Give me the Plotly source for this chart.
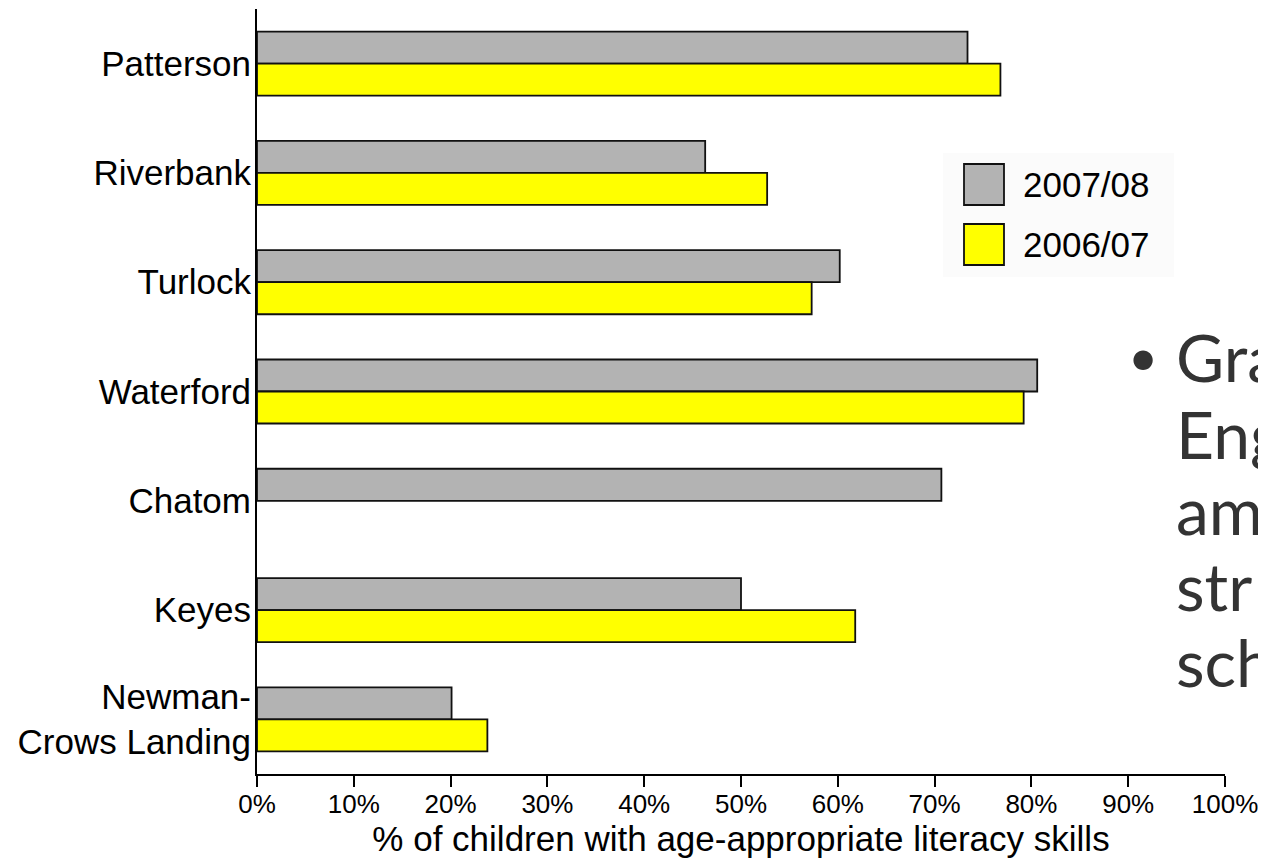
import plotly.graph_objects as go

communities = ["Patterson", "Riverbank", "Turlock", "Waterford", "Chatom", "Keyes", "Newman-<br>Crows Landing"]
vals_2007_08 = [73.4, 46.3, 60.2, 80.6, 70.7, 50.0, 20.1]
vals_2006_07 = [76.8, 52.7, 57.3, 79.2, None, 61.8, 23.8]
series_names = ["2007/08", "2006/07"]
series_colors = ["#b3b3b3", "#ffff00"]
x_ticks = [0, 10, 20, 30, 40, 50, 60, 70, 80, 90, 100]
x_title = "% of children with age-appropriate literacy skills"
side_lines = ["Gra", "Eng", "am", "str", "sch"]

FONT = "Liberation Sans, Arial, sans-serif"

fig = go.Figure()
for name, vals, col in zip(series_names, [vals_2007_08, vals_2006_07], series_colors):
    fig.add_trace(go.Bar(
        y=communities, x=vals, orientation="h", name=name,
        marker=dict(color=col, line=dict(color="#111111", width=1.8)),
        showlegend=False,
    ))

# page body has an 8px margin: figure is offset by (8, 8) in the window
OFF = 8
W, H = 1266 - OFF, 858 - OFF
ml, mr, mt, mb = 257 - OFF, 41, 9 - OFF, 84
pw, ph = W - ml - mr, H - mt - mb

def px(x):  # window pixel -> paper x
    return (x - OFF - ml) / pw

def py(y):  # window pixel -> paper y
    return 1 - (y - OFF - mt) / ph

fig.update_layout(
    width=W, height=H,
    margin=dict(l=ml, r=mr, t=mt, b=mb, pad=0),
    paper_bgcolor="white", plot_bgcolor="white",
    barmode="group", bargap=0.414, bargroupgap=0,
    font=dict(family=FONT, color="black"),
    xaxis=dict(
        range=[0, 100], tickvals=x_ticks, ticktext=[f"{v}%" for v in x_ticks],
        showgrid=False, zeroline=False, showline=True, linecolor="black", linewidth=2,
        ticks="outside", ticklen=11, tickwidth=2, tickcolor="black",
        tickfont=dict(size=26, family=FONT, color="black"),
        ticklabelstandoff=-5,
        title=dict(text=x_title, font=dict(size=35, family=FONT, color="black"), standoff=3),
    ),
    yaxis=dict(
        range=[6.5, -0.5], type="category",
        showgrid=False, zeroline=False, showline=True, linecolor="black", linewidth=2,
        ticks="", tickfont=dict(size=35, family=FONT, color="black"),
        ticklabelstandoff=-3,
    ),
)

# legend drawn to match the large swatches
shapes = [
    dict(type="rect", xref="paper", yref="paper", x0=px(943), x1=px(1174), y0=py(277), y1=py(153),
         fillcolor="#fbfbfb", line=dict(width=0), layer="below"),
]
leg_y = [(164, 205), (224, 265)]
for (y0, y1), col, name in zip(leg_y, series_colors, series_names):
    shapes.append(dict(type="rect", xref="paper", yref="paper", x0=px(964), x1=px(1004),
                       y0=py(y1), y1=py(y0), fillcolor=col, line=dict(color="#111111", width=1.8)))
    fig.add_annotation(xref="paper", yref="paper", x=px(1021), y=py((y0 + y1) / 2),
                       text=name, showarrow=False, xanchor="left", yanchor="middle",
                       font=dict(size=35, family=FONT, color="black"))
fig.update_layout(shapes=shapes)

# clipped slide text on the right
centers = [357, 433, 509, 585, 661]
for t, c in zip(side_lines, centers):
    fig.add_annotation(xref="paper", yref="paper", x=px(1174), y=py(c), text=t,
                       showarrow=False, xanchor="left", yanchor="middle",
                       font=dict(size=66, family="Lato, sans-serif", color="#333333"))
fig.add_annotation(xref="paper", yref="paper", x=px(1143), y=py(356), text="•",
                   showarrow=False, xanchor="center", yanchor="middle",
                   font=dict(size=52, family="Lato, sans-serif", color="#333333"))

fig.write_html("out.html")
